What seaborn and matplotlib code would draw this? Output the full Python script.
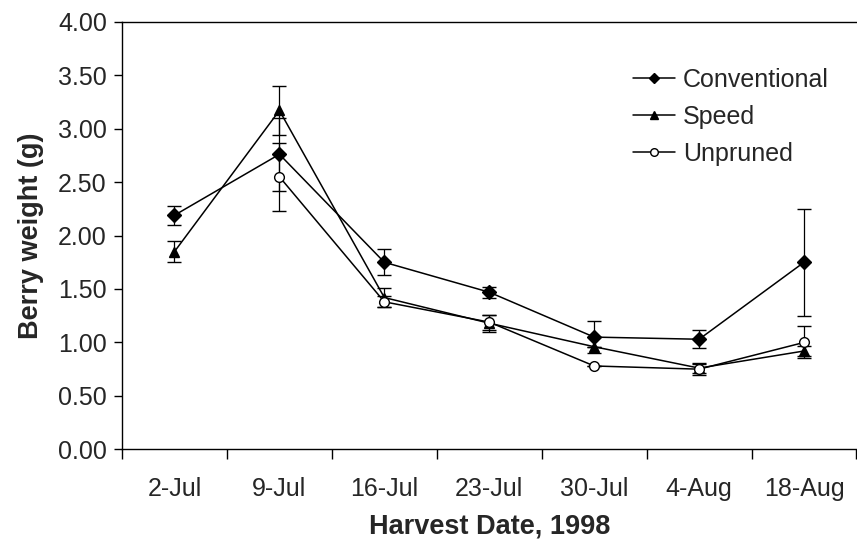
import numpy as np
import pandas as pd
import matplotlib
matplotlib.use("Agg")
import matplotlib.pyplot as plt
import seaborn as sns
from matplotlib.lines import Line2D

dates = ["2-Jul", "9-Jul", "16-Jul", "23-Jul", "30-Jul", "4-Aug", "18-Aug"]
conventional = [2.19, 2.76, 1.75, 1.47, 1.05, 1.03, 1.75]
conventional_err = [0.09, 0.34, 0.12, 0.05, 0.15, 0.085, 0.50]
speed = [1.85, 3.17, 1.42, 1.18, 0.96, 0.76, 0.92]
speed_err = [0.10, 0.23, 0.09, 0.08, 0.0, 0.05, 0.05]
unpruned = [np.nan, 2.55, 1.38, 1.19, 0.78, 0.75, 1.00]
unpruned_err = [np.nan, 0.32, 0.05, 0.07, 0.0, 0.05, 0.15]

sns.set_theme(style="ticks")
plt.rcParams["font.family"] = ["Liberation Sans", "DejaVu Sans"]

series = {"Conventional": (conventional, conventional_err, "D", "black"),
          "Speed": (speed, speed_err, "^", "black"),
          "Unpruned": (unpruned, unpruned_err, "o", "white")}

rows = []
for name, (vals, errs, m, fc) in series.items():
    for d, v in zip(dates, vals):
        rows.append({"date": d, "weight": v, "treatment": name})
df = pd.DataFrame(rows)

fig = plt.figure(figsize=(8.57, 5.44), dpi=100)
ax = fig.add_axes([0.1424, 0.174, 0.857, 0.786])

FS = 18
FSL = 19.5
pos = np.arange(len(dates))
msizes = {"Conventional": 7, "Speed": 7.5, "Unpruned": 7}
for name, (vals, errs, m, fc) in series.items():
    sub = df[df["treatment"] == name].copy()
    sub["x"] = pos
    sub = sub.dropna()
    sns.lineplot(data=sub, x="x", y="weight", ax=ax, color="black", lw=1.1,
                 marker=None, legend=False, sort=False)
    ax.errorbar(pos, vals, yerr=errs, fmt="none", ecolor="black",
                elinewidth=0.9, capsize=5, capthick=1.0, zorder=2)
    ax.plot(pos, vals, linestyle="none", marker=m, markersize=msizes[name],
            markerfacecolor=fc, markeredgecolor="black", markeredgewidth=1.0,
            zorder=4)

ax.set_xlim(-0.5, 6.5)
ax.set_ylim(0, 4)
ax.set_yticks(np.arange(0, 4.01, 0.5))
ax.set_yticklabels([f"{v:.2f}" for v in np.arange(0, 4.01, 0.5)], fontsize=FS)
ax.set_xticks(pos)
ax.set_xticklabels(dates, fontsize=FS)
ax.set_xticks(np.arange(-0.5, 7, 1), minor=True)
ax.tick_params(axis="x", which="major", length=0, pad=20)
ax.tick_params(axis="x", which="minor", length=7, width=1, color="black", direction="out")
ax.tick_params(axis="y", which="major", length=6, width=1, color="black", direction="out", pad=5)

for s in ["left", "bottom", "top"]:
    ax.spines[s].set_visible(True)
    ax.spines[s].set_color("black")
    ax.spines[s].set_linewidth(1.0)
ax.spines["right"].set_visible(False)

ax.set_xlabel("Harvest Date, 1998", fontsize=FSL, fontweight="bold", labelpad=9)
ax.set_ylabel("Berry weight (g)", fontsize=FSL, fontweight="bold", labelpad=10)

handles = [Line2D([], [], color="black", lw=1.1, marker=m, markersize=msizes[n] - 1.5,
                  markerfacecolor=fc, markeredgecolor="black")
           for n, (v, e, m, fc) in series.items()]
leg = ax.legend(handles, list(series.keys()), loc="upper left",
                bbox_to_anchor=(0.665, 0.945), frameon=False, fontsize=FS,
                handlelength=1.7, handletextpad=0.3, labelspacing=0.52)

fig.savefig("out.png", dpi=100)
